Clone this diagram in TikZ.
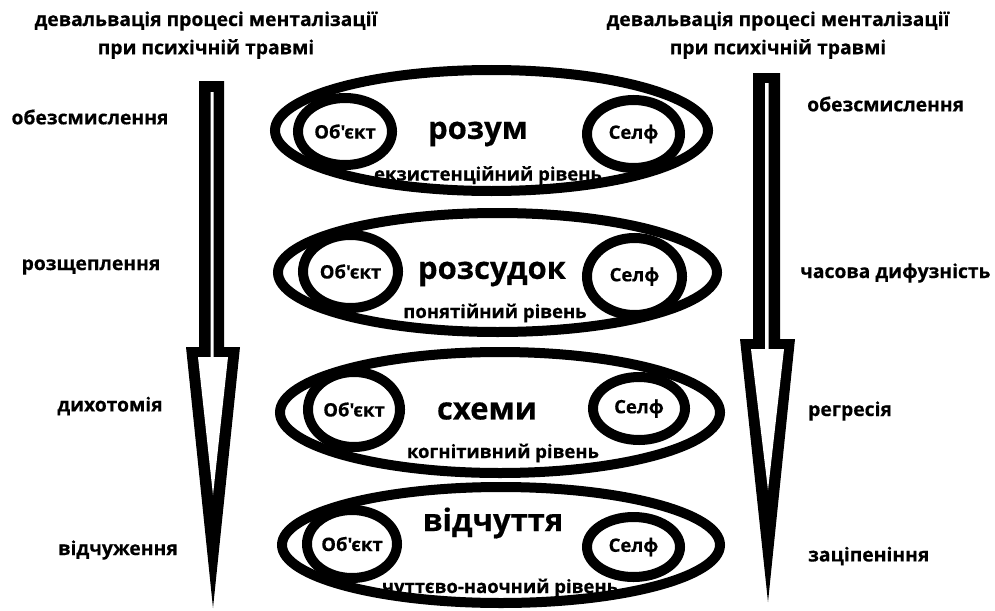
\documentclass[tikz,border=0pt]{standalone}
\usepackage{fontspec}
\newfontfamily\ofont{Open Sans}[BoldFeatures={FakeBold=0.4}]
\usetikzlibrary{shapes.geometric}
\begin{document}
\begin{tikzpicture}[x=1pt,y=-1pt,
  txt/.style={font=\ofont\bfseries\fontsize{19.3}{21}\selectfont, inner sep=0pt},
  lvl/.style={font=\ofont\bfseries\fontsize{18.5}{20}\selectfont, inner sep=0pt},
  headtxt/.style={font=\ofont\bfseries\fontsize{31}{33}\selectfont, inner sep=0pt},
  ring/.style={ellipse, draw, line width=10pt, inner sep=0pt, outer sep=0pt},
  inring/.style={ring, font=\ofont\bfseries\fontsize{18.5}{20}\selectfont}]
\useasboundingbox[fill=white] (0,0) rectangle (995,610);

% titles
\node[txt] (tl1) at (206,21) {девальвація процесі менталізації};
\node[txt] (tl2) at (206,49) {при психічній травмі};
\node[txt] (tr1) at (778,21) {девальвація процесі менталізації};
\node[txt] (tr2) at (778,49) {при психічній травмі};

% left labels
\node[txt] (l1) at (90,117) {обезсмислення};
\node[txt] (l2) at (91,267) {розщеплення};
\node[txt] (l3) at (110,406) {дихотомія};
\node[txt] (l4) at (118,550) {відчуження};

% right labels
\node[txt, anchor=west] (r1) at (807,104) {обезсмислення};
\node[txt, anchor=west] (r2) at (800,273) {часова дифузність};
\node[txt, anchor=west] (r3) at (808,411) {регресія};
\node[txt, anchor=west] (r4) at (808,556) {заціпеніння};

% left arrow
\fill[black] (199,81) -- (224,81) -- (224,347) -- (240,347) -- (213,608) -- (186,347) -- (199,347) -- cycle;
\fill[white] (210.5,92) -- (213.5,92) -- (213.5,357) -- (228,357) -- (213,495) -- (198,357) -- (210.5,357) -- cycle;
% right arrow
\fill[black] (753,73) -- (780,73) -- (780,339) -- (795,339) -- (768,602) -- (740,339) -- (753,339) -- cycle;
\fill[white] (765,83) -- (768.5,83) -- (768.5,349) -- (784,349) -- (768,490) -- (751,349) -- (765,349) -- cycle;

% row 1
\node[ring, minimum width=433pt, minimum height=121pt] (e1) at (491.5,130.5) {};
\node[inring, minimum width=94pt, minimum height=67pt] (o1) at (345,131.5) {Об'єкт};
\node[inring, minimum width=93pt, minimum height=68pt] (s1) at (633.5,134) {Селф};
\node[headtxt] (h1) at (478,134) {розум};
\node[lvl] (v1) at (488,175.5) {екзистенційний рівень};

% row 2
\node[ring, minimum width=439pt, minimum height=119pt] (e2) at (497.5,272.5) {};
\node[inring, minimum width=95pt, minimum height=73pt] (o2) at (350.5,271.5) {Об'єкт};
\node[inring, minimum width=95pt, minimum height=77pt] (s2) at (634.5,276.5) {Селф};
\node[headtxt] (h2) at (492,274) {розсудок};
\node[lvl] (v2) at (495,313) {понятійний рівень};

% row 3
\node[ring, minimum width=440pt, minimum height=121pt] (e3) at (500,412.5) {};
\node[inring, minimum width=92pt, minimum height=75pt] (o3) at (354,409.5) {Об'єкт};
\node[inring, minimum width=92pt, minimum height=63pt] (s3) at (639,408.5) {Селф};
\node[headtxt] (h3) at (487,411) {схеми};
\node[lvl] (v3) at (503,453) {когнітивний рівень};

% row 4
\node[ring, minimum width=438pt, minimum height=116pt] (e4) at (501,545) {};
\node[inring, minimum width=90pt, minimum height=68pt] (o4) at (352,544) {Об'єкт};
\node[inring, minimum width=93pt, minimum height=60pt] (s4) at (633.5,547) {Селф};
\node[headtxt] (h4) at (493,523) {відчуття};
\node[lvl] (v4) at (500,588) {чуттєво-наочний рівень};
\end{tikzpicture}
\end{document}
